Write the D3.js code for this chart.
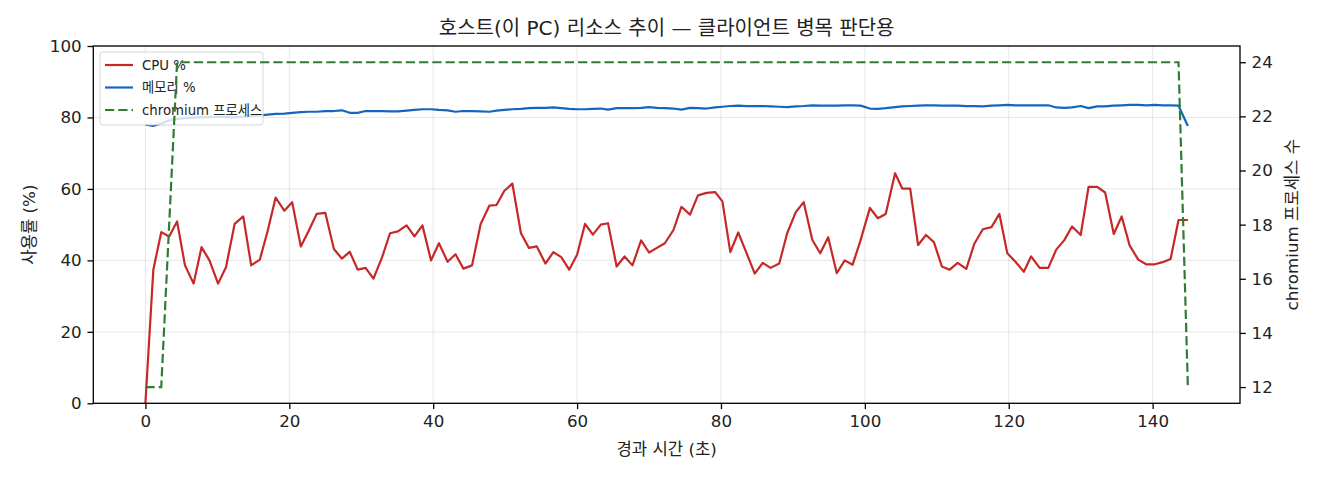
<!DOCTYPE html>
<html>
<head>
<meta charset="utf-8">
<script src="https://cdn.jsdelivr.net/npm/d3@7"></script>
<style>
  body { margin: 0; background: #fff; }
  svg { font-family: "DejaVu Sans", "Noto Sans CJK KR", sans-serif; }
</style>
</head>
<body>
<svg width="1320" height="480"></svg>
<script>
var svg = d3.select('svg');

// elapsed seconds of each sample
var times = [0, 1.1, 2.2, 3.3, 4.4, 5.5, 6.7, 7.8, 8.9, 10.1,
  11.2, 12.4, 13.6, 14.7, 15.9, 17.0, 18.1, 19.3, 20.4, 21.6,
  22.7, 23.8, 25.0, 26.2, 27.3, 28.4, 29.5, 30.6, 31.7, 32.9,
  34.0, 35.1, 36.3, 37.4, 38.5, 39.7, 40.8, 42.0, 43.1, 44.2,
  45.4, 46.6, 47.8, 48.8, 49.9, 51.0, 52.2, 53.3, 54.4, 55.6,
  56.7, 57.8, 58.9, 60.0, 61.1, 62.2, 63.3, 64.3, 65.5, 66.6,
  67.7, 68.9, 70.0, 71.1, 72.2, 73.4, 74.5, 75.7, 76.8, 78.0,
  79.2, 80.2, 81.3, 82.4, 83.6, 84.7, 85.8, 86.9, 88.1, 89.2,
  90.4, 91.5, 92.7, 93.8, 94.9, 96.1, 97.2, 98.3, 99.4, 100.7,
  101.8, 102.9, 104.2, 105.2, 106.3, 107.4, 108.5, 109.6, 110.7, 111.8,
  112.9, 114.1, 115.2, 116.4, 117.6, 118.7, 119.8, 120.9, 122.1, 123.1,
  124.3, 125.5, 126.6, 127.7, 128.8, 130.0, 131.1, 132.3, 133.4, 134.6,
  135.7, 136.8, 138.0, 139.1, 140.3, 141.4, 142.5, 143.6, 144.9];

var cpuPct = [0, 37.4, 47.9, 46.7, 50.9, 38.6, 33.5, 43.7, 40.0, 33.5,
  38.1, 50.2, 52.3, 38.6, 40.2, 48.3, 57.6, 53.9, 56.3, 43.9,
  48.3, 53.0, 53.3, 43.2, 40.5, 42.4, 37.4, 37.9, 34.9, 40.9,
  47.6, 48.1, 49.8, 46.7, 49.8, 40.0, 44.8, 39.6, 41.7, 37.7,
  38.6, 50.2, 55.3, 55.5, 59.5, 61.5, 47.6, 43.5, 43.9, 39.1,
  42.3, 40.9, 37.4, 41.6, 50.2, 47.2, 50.0, 50.4, 38.3, 41.1,
  38.6, 45.6, 42.2, 43.5, 44.8, 48.5, 55.0, 52.8, 58.2, 58.9,
  59.1, 56.5, 42.3, 47.8, 41.8, 36.3, 39.3, 37.9, 39.1, 47.6,
  53.5, 56.3, 45.7, 42.0, 46.5, 36.4, 40.0, 38.8, 45.6, 54.7,
  51.8, 53.0, 64.4, 60.1, 60.1, 44.3, 47.1, 45.1, 38.3, 37.4,
  39.3, 37.6, 44.6, 48.7, 49.3, 53.0, 42.0, 39.7, 36.8, 41.1,
  37.9, 37.9, 43.0, 45.6, 49.5, 47.1, 60.6, 60.6, 59.0, 47.4,
  52.3, 44.2, 40.2, 38.9, 38.9, 39.5, 40.4, 51.3, 51.3];

var memPct = [78.0, 77.6, 78.3, 79.2, 79.6, 79.8, 80.0, 80.0, 80.1, 80.2,
  80.1, 80.0, 80.2, 80.4, 80.6, 80.8, 81.0, 81.1, 81.3, 81.5,
  81.6, 81.6, 81.8, 81.8, 82.0, 81.3, 81.3, 81.8, 81.8, 81.8,
  81.7, 81.7, 81.9, 82.1, 82.3, 82.3, 82.1, 82.0, 81.6, 81.8,
  81.8, 81.7, 81.6, 81.9, 82.1, 82.3, 82.4, 82.6, 82.7, 82.7,
  82.8, 82.6, 82.4, 82.3, 82.3, 82.4, 82.5, 82.2, 82.6, 82.6,
  82.6, 82.7, 82.9, 82.7, 82.6, 82.5, 82.2, 82.7, 82.6, 82.5,
  82.8, 83.0, 83.2, 83.3, 83.2, 83.2, 83.2, 83.1, 83.0, 82.9,
  83.1, 83.2, 83.4, 83.3, 83.3, 83.3, 83.4, 83.4, 83.3, 82.5,
  82.4, 82.6, 82.9, 83.1, 83.2, 83.3, 83.4, 83.4, 83.3, 83.3,
  83.3, 83.2, 83.2, 83.1, 83.3, 83.4, 83.5, 83.4, 83.4, 83.4,
  83.4, 83.4, 82.8, 82.7, 82.8, 83.2, 82.6, 83.1, 83.1, 83.3,
  83.4, 83.5, 83.5, 83.4, 83.5, 83.4, 83.4, 83.3, 77.6];

var procCount = [12, 12, 12, 18, 24, 24, 24, 24, 24, 24,
  24, 24, 24, 24, 24, 24, 24, 24, 24, 24,
  24, 24, 24, 24, 24, 24, 24, 24, 24, 24,
  24, 24, 24, 24, 24, 24, 24, 24, 24, 24,
  24, 24, 24, 24, 24, 24, 24, 24, 24, 24,
  24, 24, 24, 24, 24, 24, 24, 24, 24, 24,
  24, 24, 24, 24, 24, 24, 24, 24, 24, 24,
  24, 24, 24, 24, 24, 24, 24, 24, 24, 24,
  24, 24, 24, 24, 24, 24, 24, 24, 24, 24,
  24, 24, 24, 24, 24, 24, 24, 24, 24, 24,
  24, 24, 24, 24, 24, 24, 24, 24, 24, 24,
  24, 24, 24, 24, 24, 24, 24, 24, 24, 24,
  24, 24, 24, 24, 24, 24, 24, 24, 12];

var xTicks = [0, 20, 40, 60, 80, 100, 120, 140];
var leftTicks = [0, 20, 40, 60, 80, 100];
var rightTicks = [12, 14, 16, 18, 20, 22, 24];
var seriesNames = ['CPU %', '메모리 %', 'chromium 프로세스'];
var seriesColors = ['#c62828', '#1565c0', '#2e7d32'];

var titleText = '호스트(이 PC) 리소스 추이 — 클라이언트 병목 판단용';
var xLabel = '경과 시간 (초)';
var yLabelLeft = '사용률 (%)';
var yLabelRight = 'chromium 프로세스 수';

// plot box (window.top is read-only, so no bare "top")
var plotL = 93.3, plotR = 1240, plotT = 46, plotB = 403.3;
var tickFont = 16.7;

// 5% margins on x and on the process axis, like matplotlib autoscale
var tMax = d3.max(times);
var xScale = d3.scaleLinear()
  .domain([-tMax * 0.05, tMax * 1.05])
  .range([plotL, plotR]);
var yScale = d3.scaleLinear().domain([0, 100]).range([plotB, plotT]);
var pExt = d3.extent(procCount), pPad = (pExt[1] - pExt[0]) * 0.05;
var y2Scale = d3.scaleLinear()
  .domain([pExt[0] - pPad, pExt[1] + pPad])
  .range([plotB, plotT]);

var rows = times.map(function(t, i) {
  return {t: t, cpu: cpuPct[i], mem: memPct[i], proc: procCount[i]};
});

var defs = svg.append('defs');
defs.append('clipPath').attr('id', 'plotClip')
  .append('rect')
  .attr('x', plotL).attr('y', plotT)
  .attr('width', plotR - plotL).attr('height', plotB - plotT);

// grid
var grid = svg.append('g');
grid.selectAll('.vgrid').data(xTicks).enter().append('line')
  .attr('x1', function(d) { return xScale(d); })
  .attr('x2', function(d) { return xScale(d); })
  .attr('y1', plotT).attr('y2', plotB)
  .style('stroke', '#b0b0b0').style('stroke-opacity', 0.3).style('stroke-width', 1);
grid.selectAll('.hgrid').data(leftTicks).enter().append('line')
  .attr('y1', function(d) { return yScale(d); })
  .attr('y2', function(d) { return yScale(d); })
  .attr('x1', plotL).attr('x2', plotR)
  .style('stroke', '#b0b0b0').style('stroke-opacity', 0.3).style('stroke-width', 1);

var plot = svg.append('g').attr('clip-path', 'url(#plotClip)');

var cpuLine = d3.line()
  .x(function(d) { return xScale(d.t); })
  .y(function(d) { return yScale(d.cpu); });
var memLine = d3.line()
  .x(function(d) { return xScale(d.t); })
  .y(function(d) { return yScale(d.mem); });
var procLine = d3.line()
  .x(function(d) { return xScale(d.t); })
  .y(function(d) { return y2Scale(d.proc); });

plot.append('path').datum(rows)
  .attr('d', cpuLine)
  .style('fill', 'none').style('stroke', seriesColors[0])
  .style('stroke-width', 2.2).style('stroke-linejoin', 'round');
plot.append('path').datum(rows)
  .attr('d', memLine)
  .style('fill', 'none').style('stroke', seriesColors[1])
  .style('stroke-width', 2.2).style('stroke-linejoin', 'round');

// legend belongs to the left axes, so the twin axis line is drawn above it
var legend = svg.append('g').attr('transform', 'translate(100,52)');
legend.append('rect')
  .attr('width', 163).attr('height', 73)
  .attr('rx', 3).attr('ry', 3)
  .style('fill', '#fff').style('fill-opacity', 0.8)
  .style('stroke', '#cccccc').style('stroke-opacity', 0.8);
seriesNames.forEach(function(name, i) {
  var ly = 13 + i * 22.5;
  legend.append('line')
    .attr('x1', 5).attr('x2', 33).attr('y1', ly).attr('y2', ly)
    .style('stroke', seriesColors[i]).style('stroke-width', 2.2)
    .style('stroke-dasharray', i == 2 ? '9.25,4' : null);
  legend.append('text')
    .attr('x', 42).attr('y', ly)
    .attr('dy', '0.36em')
    .style('font-size', '13.3px').style('fill', '#222')
    .text(name);
});

svg.append('g').attr('clip-path', 'url(#plotClip)')
  .append('path').datum(rows)
  .attr('d', procLine)
  .style('fill', 'none').style('stroke', seriesColors[2])
  .style('stroke-width', 2.2).style('stroke-dasharray', '9.25,4');

// axes
var xAxis = d3.axisBottom(xScale).tickValues(xTicks).tickSize(5.8).tickPadding(5.8);
var yAxis = d3.axisLeft(yScale).tickValues(leftTicks).tickSize(5.8).tickPadding(5.8);
var y2Axis = d3.axisRight(y2Scale).tickValues(rightTicks).tickSize(5.8).tickPadding(5.8);

var xAxisG = svg.append('g').attr('transform', 'translate(0,' + plotB + ')').call(xAxis);
var yAxisG = svg.append('g').attr('transform', 'translate(' + plotL + ',0)').call(yAxis);
var y2AxisG = svg.append('g').attr('transform', 'translate(' + plotR + ',0)').call(y2Axis);

[xAxisG, yAxisG, y2AxisG].forEach(function(g) {
  g.select('.domain').remove();
  g.selectAll('.tick line').style('stroke', '#000').style('stroke-width', 1.3);
  g.selectAll('.tick text')
    .style('font-family', '"DejaVu Sans", "Noto Sans CJK KR", sans-serif')
    .style('font-size', tickFont + 'px').style('fill', '#222');
});

svg.append('rect')
  .attr('x', plotL).attr('y', plotT)
  .attr('width', plotR - plotL).attr('height', plotB - plotT)
  .style('fill', 'none').style('stroke', '#000').style('stroke-width', 1.3);

// titles
svg.append('text')
  .attr('x', (plotL + plotR) / 2).attr('y', 35)
  .style('text-anchor', 'middle').style('font-size', '20px').style('fill', '#222')
  .text(titleText);
svg.append('text')
  .attr('x', (plotL + plotR) / 2).attr('y', 455)
  .style('text-anchor', 'middle').style('font-size', tickFont + 'px').style('fill', '#222')
  .text(xLabel);
svg.append('text')
  .attr('transform', 'translate(35,' + ((plotT + plotB) / 2) + ') rotate(-90)')
  .style('text-anchor', 'middle').style('font-size', tickFont + 'px').style('fill', '#222')
  .text(yLabelLeft);
svg.append('text')
  .attr('transform', 'translate(1298,' + ((plotT + plotB) / 2) + ') rotate(-90)')
  .style('text-anchor', 'middle').style('font-size', tickFont + 'px').style('fill', '#222')
  .text(yLabelRight);
</script>
</body>
</html>
